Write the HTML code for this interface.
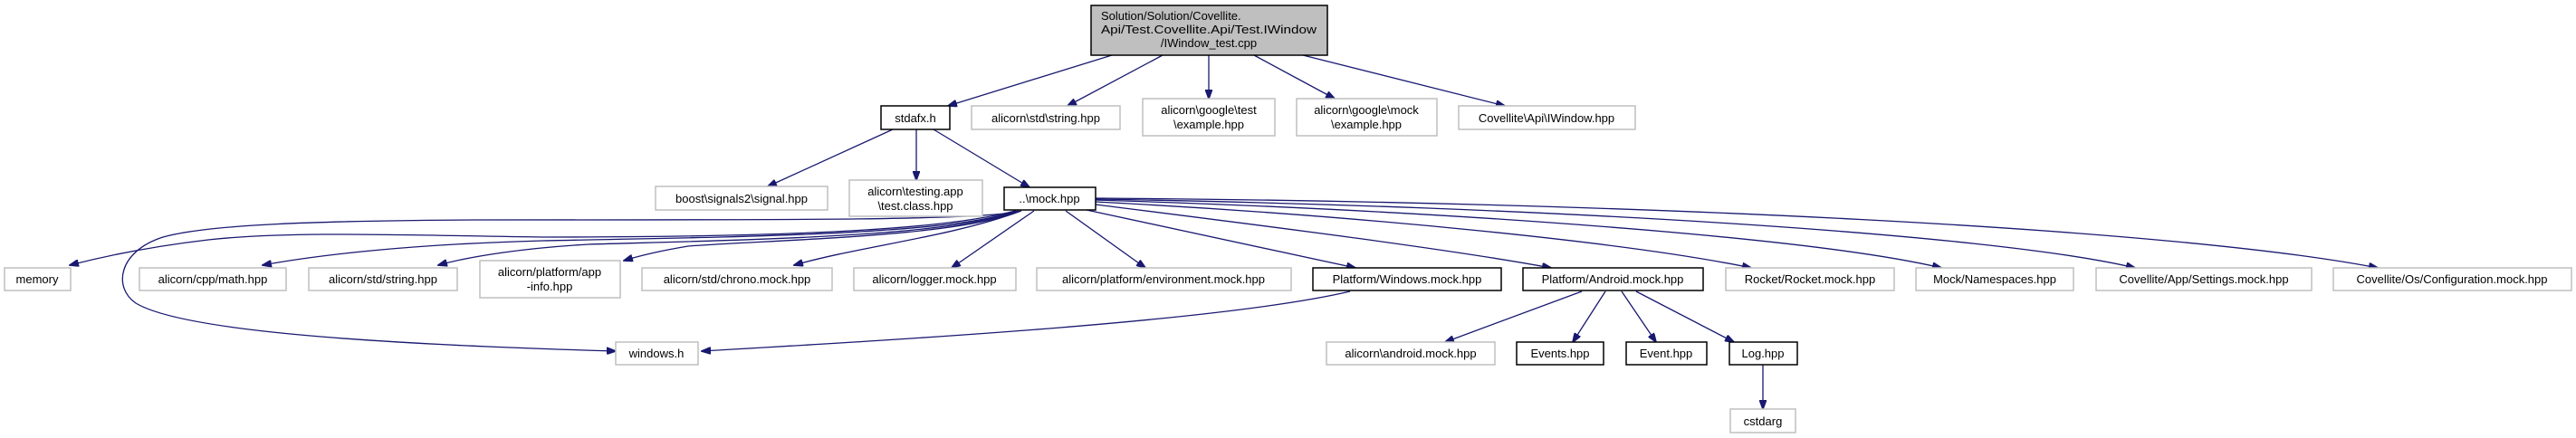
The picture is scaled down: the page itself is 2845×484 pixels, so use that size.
<!DOCTYPE html>
<html><head><meta charset="utf-8"><style>
html,body{margin:0;padding:0;background:#fff;}
svg{display:block;}
text{font-family:"Liberation Sans",sans-serif;font-size:13px;fill:#000;}
.g{fill:#fff;stroke:#bfbfbf;stroke-width:1.5;}
.b{fill:#fff;stroke:#000;stroke-width:1.5;}
.e{fill:none;stroke:#191970;stroke-width:1.3;}
</style></head><body>
<svg width="2845" height="484" viewBox="0 0 2845 484" xmlns="http://www.w3.org/2000/svg">
<defs><marker id="a" markerWidth="11" markerHeight="8" refX="10" refY="4" orient="auto" markerUnits="userSpaceOnUse"><path d="M0,0 L11,4 L0,8 Z" fill="#191970" stroke="#191970"/></marker></defs>

<g class="e" marker-end="url(#a)">
<path d="M1228,61 L1047,117"/>
<path d="M1284,61 L1179,117"/>
<path d="M1335,61 L1335,109"/>
<path d="M1385,61 L1474,109"/>
<path d="M1439,61 L1662,117"/>
<path d="M986,143 L848,206"/>
<path d="M1012,143 L1012,199"/>
<path d="M1031,143 L1137,207"/>
<path d="M1121,233 C1050,252 900,262 600,262 C450,260 320,255 230,265 C170,272 120,282 77,293"/>
<path d="M1123,234 C1080,243 900,243 523,243 C350,244 230,248 180,262 C130,278 125,318 150,335 C200,365 400,380 680,388"/>
<path d="M1122,233 C1050,260 800,262 600,266 C450,270 350,282 290,293"/>
<path d="M1124,233 C1050,262 820,265 650,270 C580,274 520,283 484,293"/>
<path d="M1126,233 C1060,262 850,265 760,272 C730,277 705,283 689,288"/>
<path d="M1128,233 C1050,262 950,272 877,293"/>
<path d="M1142,233 L1051,296"/>
<path d="M1177,233 L1265,296"/>
<path d="M1200,232 L1497,296"/>
<path d="M1210,226 C1400,250 1600,275 1713,296"/>
<path d="M1210,223 C1500,238 1800,268 1934,296"/>
<path d="M1210,221 C1600,233 2000,262 2144,296"/>
<path d="M1210,220 C1700,228 2200,258 2358,296"/>
<path d="M1210,219 C1800,223 2400,252 2626,296"/>
<path d="M1491,322 C1350,355 1000,375 775,388"/>
<path d="M1747,322 L1596,378"/>
<path d="M1773,322 L1737,378"/>
<path d="M1791,322 L1829,378"/>
<path d="M1807,322 L1915,378"/>
<path d="M1947,403 L1947,452"/>
</g>

<rect x="1205" y="6" width="261" height="55" fill="#bfbfbf" stroke="#000" stroke-width="1.5"/>
<text x="1216" y="22">Solution/Solution/Covellite.</text>
<text x="1216" y="37" textLength="238" lengthAdjust="spacingAndGlyphs">Api/Test.Covellite.Api/Test.IWindow</text>
<text x="1335" y="52" text-anchor="middle">/IWindow_test.cpp</text>

<rect class="b" x="973" y="117" width="76" height="26"/><text x="1011" y="135" text-anchor="middle">stdafx.h</text>
<rect class="g" x="1073" y="117" width="164" height="26"/><text x="1155" y="135" text-anchor="middle">alicorn\std\string.hpp</text>
<rect class="g" x="1262" y="109" width="146" height="41"/><text x="1335" y="126" text-anchor="middle">alicorn\google\test</text><text x="1335" y="142" text-anchor="middle">\example.hpp</text>
<rect class="g" x="1432" y="109" width="155" height="41"/><text x="1509" y="126" text-anchor="middle">alicorn\google\mock</text><text x="1509" y="142" text-anchor="middle">\example.hpp</text>
<rect class="g" x="1611" y="117" width="195" height="26"/><text x="1708" y="135" text-anchor="middle">Covellite\Api\IWindow.hpp</text>

<rect class="g" x="724" y="206" width="190" height="26"/><text x="819" y="224" text-anchor="middle">boost\signals2\signal.hpp</text>
<rect class="g" x="938" y="199" width="147" height="40"/><text x="1011" y="216" text-anchor="middle">alicorn\testing.app</text><text x="1011" y="232" text-anchor="middle">\test.class.hpp</text>
<rect class="b" x="1109" y="207" width="101" height="25"/><text x="1159" y="224" text-anchor="middle">..\mock.hpp</text>

<rect class="g" x="5" y="296" width="73" height="25"/><text x="41" y="313" text-anchor="middle">memory</text>
<rect class="g" x="154" y="296" width="162" height="25"/><text x="235" y="313" text-anchor="middle">alicorn/cpp/math.hpp</text>
<rect class="g" x="341" y="296" width="164" height="25"/><text x="423" y="313" text-anchor="middle">alicorn/std/string.hpp</text>
<rect class="g" x="530" y="288" width="155" height="41"/><text x="607" y="305" text-anchor="middle">alicorn/platform/app</text><text x="607" y="321" text-anchor="middle">-info.hpp</text>
<rect class="g" x="709" y="296" width="210" height="25"/><text x="814" y="313" text-anchor="middle">alicorn/std/chrono.mock.hpp</text>
<rect class="g" x="943" y="296" width="179" height="25"/><text x="1032" y="313" text-anchor="middle">alicorn/logger.mock.hpp</text>
<rect class="g" x="1145" y="296" width="281" height="25"/><text x="1285" y="313" text-anchor="middle">alicorn/platform/environment.mock.hpp</text>
<rect class="b" x="1450" y="296" width="208" height="25"/><text x="1554" y="313" text-anchor="middle">Platform/Windows.mock.hpp</text>
<rect class="b" x="1682" y="296" width="199" height="25"/><text x="1781" y="313" text-anchor="middle">Platform/Android.mock.hpp</text>
<rect class="g" x="1906" y="296" width="186" height="25"/><text x="1999" y="313" text-anchor="middle">Rocket/Rocket.mock.hpp</text>
<rect class="g" x="2116" y="296" width="174" height="25"/><text x="2203" y="313" text-anchor="middle">Mock/Namespaces.hpp</text>
<rect class="g" x="2315" y="296" width="238" height="25"/><text x="2434" y="313" text-anchor="middle">Covellite/App/Settings.mock.hpp</text>
<rect class="g" x="2577" y="296" width="263" height="25"/><text x="2708" y="313" text-anchor="middle">Covellite/Os/Configuration.mock.hpp</text>

<rect class="g" x="680" y="378" width="91" height="25"/><text x="725" y="395" text-anchor="middle">windows.h</text>
<rect class="g" x="1465" y="378" width="186" height="25"/><text x="1558" y="395" text-anchor="middle">alicorn\android.mock.hpp</text>
<rect class="b" x="1675" y="378" width="96" height="25"/><text x="1723" y="395" text-anchor="middle">Events.hpp</text>
<rect class="b" x="1796" y="378" width="89" height="25"/><text x="1840" y="395" text-anchor="middle">Event.hpp</text>
<rect class="b" x="1910" y="378" width="75" height="25"/><text x="1947" y="395" text-anchor="middle">Log.hpp</text>

<rect class="g" x="1911" y="452" width="72" height="26"/><text x="1947" y="470" text-anchor="middle">cstdarg</text>
</svg>
</body></html>
